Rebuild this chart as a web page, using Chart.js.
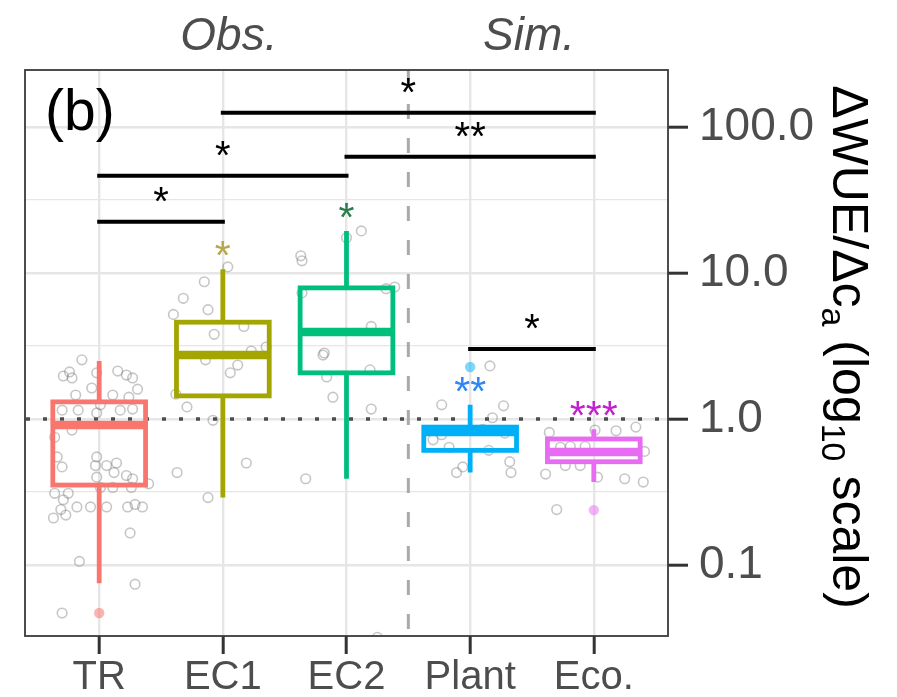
<!DOCTYPE html>
<html>
<head>
<meta charset="utf-8">
<script src="https://cdn.jsdelivr.net/npm/chart.js@4.4.1/dist/chart.umd.min.js"></script>
<style>
  html, body { margin: 0; padding: 0; background: #fff; }
  canvas { display: block; }
</style>
</head>
<body>
<canvas id="chart" width="897" height="697"></canvas>
<script>
// groups on the x axis
const categories = ['TR', 'EC1', 'EC2', 'Plant', 'Eco.'];
const boxColors = ['#F8766D', '#A3A500', '#00BF7D', '#00B0F6', '#E76BF3'];
const outlierFill = ['rgba(248,118,109,0.55)', 'rgba(163,165,0,0.55)', 'rgba(0,191,125,0.55)', 'rgba(0,176,246,0.5)', 'rgba(231,107,243,0.5)'];

// box summaries
const whiskerLow = [0.075, 0.29, 0.39, 0.43, 0.37];
const q1 = [0.353, 1.44, 2.07, 0.61, 0.51];
const median = [0.91, 2.74, 3.94, 0.815, 0.594];
const q3 = [1.31, 4.6, 7.9, 0.88, 0.73];
const whiskerHigh = [2.5, 10.6, 19.4, 1.25, 0.85];
const outliers = [[0.047], [], [], [2.27], [0.238]];

// significance vs. 1 for each group
const groupSig = ['', '*', '*', '**', '***'];
const groupSigColors = ['#000', '#b5a94c', '#2c7b4e', '#2f86f2', '#c21fce'];

// pairwise comparison bars
const pairFrom = [0, 0, 1, 2, 3];
const pairTo = [1, 2, 4, 4, 4];
const pairHeight = [22.4, 46.2, 124.7, 62.3, 3.02];
const pairLabel = ['*', '*', '*', '**', '*'];

// tick labels
const yMajorTicks = [0.1, 1, 10, 100];
const yMinorTicks = [0.316, 3.16, 31.6];
const yTitleParts = [['\u0394WUE/\u0394c', false], ['a', true], [' (log', false], ['10', true], [' scale)', false]];
const topLabels = ['Obs.', 'Sim.'];
const panelLabel = '(b)';

// jittered observations: offset from group centre and value
const trJitter = [-0.14, -0.29, -0.24, -0.22, -0.02, 0.15, 0.22, 0.27, -0.06, -0.19, 0.11, 0.24, 0.31, 0.01, -0.17, -0.30, 0.17, 0.27, -0.02, -0.22, -0.36, -0.34, -0.30, -0.02, -0.03, 0.06, 0.14, 0.12, -0.02, 0.22, 0.27, 0.40, 0.01, 0.11, 0.26, -0.36, -0.25, -0.29, -0.31, -0.37, -0.27, -0.18, -0.07, 0.06, 0.23, 0.29, 0.35, 0.25, -0.16, 0.29, -0.30];
const trValues = [2.54, 1.97, 2.10, 1.91, 2.07, 2.13, 2.00, 1.91, 1.63, 1.46, 1.46, 1.41, 1.60, 1.25, 1.15, 1.15, 1.15, 1.17, 1.10, 0.84, 0.75, 0.55, 0.47, 0.55, 0.48, 0.48, 0.50, 0.43, 0.40, 0.41, 0.39, 0.36, 0.34, 0.34, 0.34, 0.31, 0.31, 0.28, 0.24, 0.21, 0.22, 0.25, 0.25, 0.25, 0.25, 0.26, 0.25, 0.166, 0.106, 0.074, 0.047];
const ec1Jitter = [0.04, -0.15, -0.32, -0.12, -0.40, 0.17, -0.07, -0.14, 0.12, 0.06, 0.35, 0.23, -0.38, -0.29, -0.08, 0.19, -0.37, -0.12];
const ec1Values = [11.0, 8.7, 6.7, 5.6, 5.2, 4.3, 3.8, 2.54, 2.34, 2.07, 3.11, 2.92, 1.48, 1.21, 0.98, 0.50, 0.43, 0.29];
const ec2Jitter = [0.12, 0.0, -0.37, -0.36, 0.39, 0.32, -0.36, 0.20, -0.18, -0.19, -0.16, 0.19, -0.11, 0.20, -0.33, 0.25];
const ec2Values = [19.4, 17.4, 13.1, 12.1, 8.0, 7.8, 7.3, 4.3, 2.83, 2.74, 1.94, 2.17, 1.41, 1.17, 0.39, 0.032];
const plantJitter = [0.16, -0.23, 0.27, 0.18, -0.23, -0.17, 0.15, -0.06, -0.11, 0.32, 0.33, -0.30, 0.10, 0.28];
const plantValues = [2.31, 1.25, 1.23, 1.02, 0.78, 0.64, 0.61, 0.47, 0.43, 0.51, 0.43, 0.72, 0.85, 0.80];
const ecoJitter = [-0.36, -0.27, -0.19, -0.07, 0.18, 0.34, 0.41, -0.23, -0.11, -0.39, 0.03, 0.25, 0.40, -0.30, 0.01];
const ecoValues = [0.81, 0.64, 0.65, 0.65, 0.83, 0.88, 0.60, 0.48, 0.48, 0.42, 0.40, 0.39, 0.37, 0.24, 0.84];

const jitters = [trJitter, ec1Jitter, ec2Jitter, plantJitter, ecoJitter];
const values = [trValues, ec1Values, ec2Values, plantValues, ecoValues];

const FONT = '"Liberation Sans", Arial, Helvetica, sans-serif';
const splitAt = 2.5;
const boxHalf = 0.375;

// build scatter points
const obsPoints = [];
jitters.forEach((jit, g) => {
  jit.forEach((j, k) => obsPoints.push({ x: g + j, y: values[g][k] }));
});
const outlierPoints = [];
const outlierColors = [];
outliers.forEach((list, g) => {
  list.forEach(v => { outlierPoints.push({ x: g, y: v }); outlierColors.push(outlierFill[g]); });
});

const isMajor = v => yMajorTicks.some(t => Math.abs(t - v) / t < 1e-6);

const decor = {
  id: 'decor',
  beforeDatasetsDraw(chart) {
    const { ctx, chartArea: a, scales: { x, y } } = chart;
    ctx.save();
    ctx.beginPath();
    ctx.rect(a.left, a.top, a.right - a.left, a.bottom - a.top);
    ctx.clip();
    // dotted reference line at 1
    const y1 = y.getPixelForValue(1);
    ctx.strokeStyle = '#4d4d4d';
    ctx.lineWidth = 3.5;
    ctx.setLineDash([4, 13]);
    ctx.lineDashOffset = -1;
    ctx.beginPath();
    ctx.moveTo(a.left, y1);
    ctx.lineTo(a.right, y1);
    ctx.stroke();
    // dashed separator between observed and simulated
    const xs = x.getPixelForValue(splitAt);
    ctx.strokeStyle = '#a9a9a9';
    ctx.lineWidth = 3;
    ctx.setLineDash([15, 19]);
    ctx.lineDashOffset = 0;
    ctx.beginPath();
    ctx.moveTo(xs, a.top);
    ctx.lineTo(xs, a.bottom);
    ctx.stroke();
    ctx.restore();
  },
  afterDatasetsDraw(chart) {
    const { ctx, chartArea: a, scales: { x, y } } = chart;
    ctx.save();
    // boxes
    categories.forEach((c, i) => {
      const xl = x.getPixelForValue(i - boxHalf);
      const xr = x.getPixelForValue(i + boxHalf);
      const xc = x.getPixelForValue(i);
      const yLo = y.getPixelForValue(whiskerLow[i]);
      const yQ1 = y.getPixelForValue(q1[i]);
      const yMed = y.getPixelForValue(median[i]);
      const yQ3 = y.getPixelForValue(q3[i]);
      const yHi = y.getPixelForValue(whiskerHigh[i]);
      ctx.strokeStyle = boxColors[i];
      ctx.lineWidth = 4.8;
      ctx.lineCap = 'butt';
      ctx.lineJoin = 'miter';
      ctx.beginPath();
      ctx.moveTo(xc, yHi); ctx.lineTo(xc, yQ3);
      ctx.moveTo(xc, yQ1); ctx.lineTo(xc, yLo);
      ctx.stroke();
      ctx.strokeRect(xl, yQ3, xr - xl, yQ1 - yQ3);
      ctx.lineWidth = 8.5;
      ctx.beginPath();
      ctx.moveTo(xl, yMed); ctx.lineTo(xr, yMed);
      ctx.stroke();
      // group significance
      if (groupSig[i]) {
        ctx.fillStyle = groupSigColors[i];
        ctx.font = '41px ' + FONT;
        ctx.textAlign = 'center';
        ctx.textBaseline = 'alphabetic';
        ctx.fillText(groupSig[i], xc, yHi);
      }
    });
    // pairwise bars
    ctx.strokeStyle = '#000';
    ctx.fillStyle = '#000';
    ctx.lineWidth = 4;
    ctx.lineCap = 'square';
    ctx.font = '40px ' + FONT;
    ctx.textAlign = 'center';
    pairFrom.forEach((f, k) => {
      const x0 = x.getPixelForValue(f);
      const x1 = x.getPixelForValue(pairTo[k]);
      const yy = y.getPixelForValue(pairHeight[k]);
      ctx.beginPath();
      ctx.moveTo(x0, yy); ctx.lineTo(x1, yy);
      ctx.stroke();
      ctx.fillText(pairLabel[k], (x0 + x1) / 2, yy - 7);
    });
    // panel border
    ctx.strokeStyle = '#3a3a3a';
    ctx.lineWidth = 1.8;
    ctx.lineCap = 'butt';
    ctx.strokeRect(a.left, a.top, a.right - a.left, a.bottom - a.top);
    ctx.restore();
  },
  afterDraw(chart) {
    const { ctx, chartArea: a, scales: { x } } = chart;
    ctx.save();
    // panel tag
    ctx.fillStyle = '#000';
    ctx.font = '57px ' + FONT;
    ctx.textAlign = 'left';
    ctx.textBaseline = 'alphabetic';
    ctx.fillText(panelLabel, 45, 130);
    // Obs. / Sim. headers
    ctx.fillStyle = '#4d4d4d';
    ctx.font = 'italic 46px ' + FONT;
    ctx.textAlign = 'center';
    ctx.fillText(topLabels[0], x.getPixelForValue(1) + 6, 50);
    ctx.fillText(topLabels[1], x.getPixelForValue(3.5) - 3, 50);
    // right axis title with subscripts
    const size = 50;
    const subSize = 34;
    ctx.fillStyle = '#000';
    ctx.translate(851, 347);
    ctx.rotate(Math.PI / 2);
    let total = 0;
    yTitleParts.forEach(([t, sub]) => {
      ctx.font = (sub ? subSize : size) + 'px ' + FONT;
      total += ctx.measureText(t).width;
    });
    let cx = -total / 2;
    ctx.textAlign = 'left';
    yTitleParts.forEach(([t, sub]) => {
      ctx.font = (sub ? subSize : size) + 'px ' + FONT;
      ctx.fillText(t, cx, sub ? 0.36 * size + 11 : 0.36 * size);
      cx += ctx.measureText(t).width;
    });
    ctx.restore();
  }
};

new Chart(document.getElementById('chart'), {
  type: 'scatter',
  data: {
    datasets: [
      {
        data: obsPoints,
        pointRadius: 4.8,
        pointBorderWidth: 1.6,
        pointBorderColor: 'rgba(120,120,120,0.42)',
        pointBackgroundColor: 'rgba(0,0,0,0)'
      },
      {
        data: outlierPoints,
        pointRadius: 5.2,
        pointBorderWidth: 0,
        pointBorderColor: 'rgba(0,0,0,0)',
        pointBackgroundColor: outlierColors
      }
    ]
  },
  options: {
    responsive: false,
    animation: false,
    devicePixelRatio: 1,
    layout: { padding: { left: 25, top: 70, right: 0, bottom: 0 } },
    plugins: { legend: { display: false }, tooltip: { enabled: false } },
    scales: {
      x: {
        type: 'linear',
        min: -0.6,
        max: 4.6,
        afterBuildTicks: s => { s.ticks = categories.map((c, i) => ({ value: i })); },
        afterFit: s => { s.height = 61; },
        border: { display: false },
        grid: { color: '#e6e6e6', lineWidth: 2.4, tickColor: '#333', tickLength: 18, tickWidth: 3 },
        ticks: {
          autoSkip: false,
          maxRotation: 0,
          padding: 0,
          color: '#4d4d4d',
          font: { family: FONT, size: 40 },
          callback: v => categories[v]
        }
      },
      y: {
        type: 'logarithmic',
        position: 'right',
        min: 0.0327,
        max: 245,
        afterBuildTicks: s => {
          s.ticks = yMajorTicks.concat(yMinorTicks).sort((p, q) => p - q).map(v => ({ value: v }));
        },
        afterFit: s => { s.width = 229; },
        border: { display: false },
        grid: {
          color: '#e6e6e6',
          lineWidth: c => (c.tick && isMajor(c.tick.value)) ? 2.4 : 1.3,
          tickColor: c => (c.tick && isMajor(c.tick.value)) ? '#333' : 'rgba(0,0,0,0)',
          tickLength: 20,
          tickWidth: 3
        },
        ticks: {
          autoSkip: false,
          padding: 11,
          color: '#4d4d4d',
          font: { family: FONT, size: 46 },
          callback: v => isMajor(v) ? v.toFixed(1) : ''
        }
      }
    }
  },
  plugins: [decor]
});
</script>
</body>
</html>
